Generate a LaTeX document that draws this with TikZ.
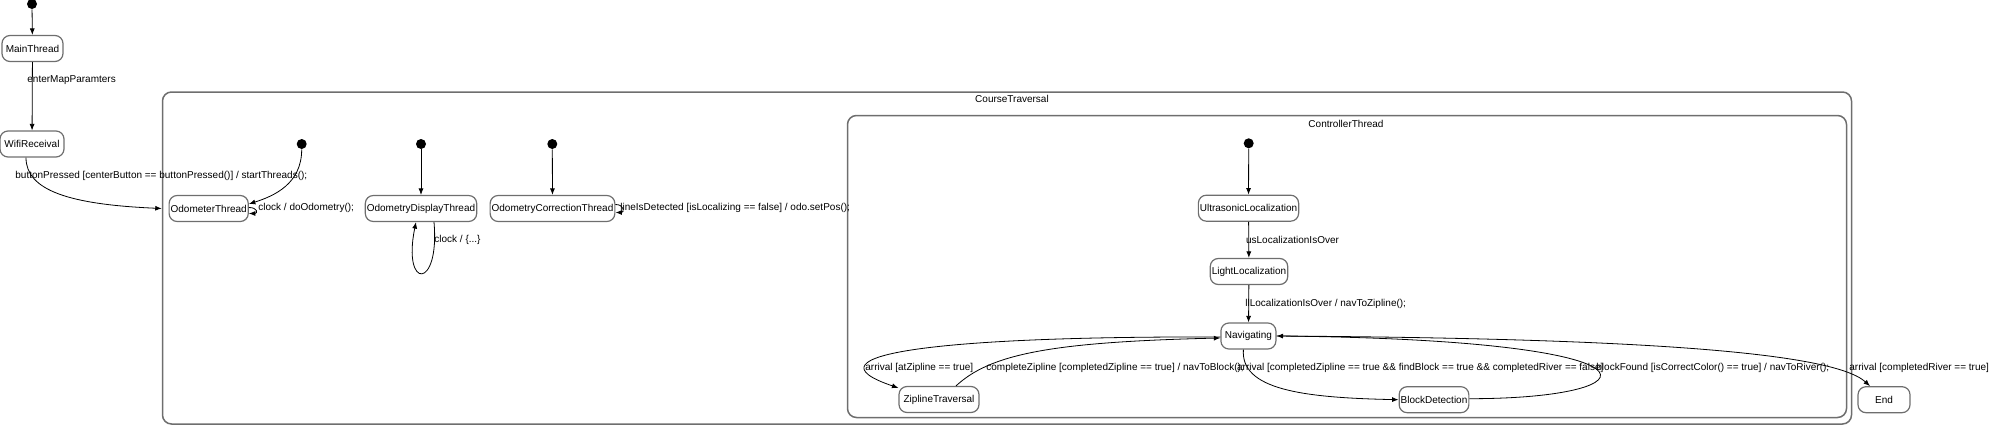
\documentclass[tikz,border=0pt]{standalone}
\usepackage{fontspec}
\setmainfont{Liberation Sans}
\usetikzlibrary{arrows.meta}

\definecolor{boxgray}{RGB}{110,110,110}
\tikzset{
	statebox/.style={draw=boxgray, line width=1.2pt, rounded corners=8pt, minimum height=26pt, minimum width=52pt, inner xsep=1.5pt},
	initdot/.style={circle, fill=black, inner sep=0pt, minimum size=10pt},
	region/.style={draw=boxgray, line width=1.5pt, rounded corners=9pt, inner sep=0pt},
	tlabel/.style={anchor=west, inner sep=0pt},
}

\begin{document}
\begin{tikzpicture}[x=1pt, y=-1pt, line width=0.8pt, >={Latex[length=6.5pt,width=5pt]},
		every node/.style={font=\fontsize{10}{12}\selectfont}]
				\useasboundingbox (0,0) rectangle (2000,439);
				% composite states
				\node[region, minimum width=1689pt, minimum height=332pt] (course) at (1007,258) {};
				\node (courselbl) at (1012,99) {CourseTraversal};
				\node[region, minimum width=999pt, minimum height=302pt] (controller) at (1347,266.5) {};
				\node (controllerlbl) at (1346,124) {ControllerThread};
				% states
				\node[initdot] (init) at (32,4) {};
				\node[statebox, minimum width=61pt] (main) at (32.5,48.5) {MainThread};
				\node[statebox, minimum width=64pt] (wifi) at (32,144) {WifiReceival};
				\node[initdot] (odoinit) at (301.7,144) {};
				\node[statebox] (odometer) at (208.7,208.5) {OdometerThread};
				\node[initdot] (dispinit) at (421,144) {};
				\node[statebox] (display) at (421,208.5) {OdometryDisplayThread};
				\node[initdot] (corrinit) at (552.3,144) {};
				\node[statebox] (correction) at (552.5,208.5) {OdometryCorrectionThread};
				\node[initdot] (ctrlinit) at (1248.7,143.3) {};
				\node[statebox] (ultra) at (1248.5,208.2) {UltrasonicLocalization};
				\node[statebox] (light) at (1249,271.5) {LightLocalization};
				\node[statebox, minimum width=55pt] (nav) at (1248.4,336) {Navigating};
				\node[statebox, minimum width=80pt] (zipline) at (939,399.5) {ZiplineTraversal};
				\node[statebox] (block) at (1434,399.7) {BlockDetection};
				\node[statebox] (end) at (1884,399.7) {End};
				% transitions
				\draw[->] (init) -- (main);
				\draw[->] (main) -- (wifi);
				\node[tlabel] (maplbl) at (27,80) {enterMapParamters};
				\draw[->] ([xshift=-6pt]wifi.south) .. controls +(0,33) and +(-92,-4) .. (course.west |- odometer.west);
				\node[tlabel] (startlbl) at (15,176) {buttonPressed [centerButton == buttonPressed()] / startThreads();};
				\draw[->] (odoinit) .. controls +(0,40) and +(25,-8) .. ([yshift=4.5pt]odometer.east);
				\draw[->] ([yshift=1pt]odometer.east) .. controls +(9,0) and +(9,0) .. ([yshift=-5pt]odometer.east);
				\node[tlabel] (odolbl) at (258,208) {clock / doOdometry();};
				\draw[->] (dispinit) -- (display);
				\draw[->] ([xshift=13pt]display.south) .. controls +(6,68) and +(-14,68) .. ([xshift=-5pt]display.south);
				\node[tlabel] (displbl) at (434,240) {clock / \{...\}};
				\draw[->] (corrinit) -- (correction);
				\draw[->] ([yshift=4pt]correction.east) .. controls +(9,0) and +(9,0) .. ([yshift=-4pt]correction.east);
				\node[tlabel] (corrlbl) at (620,208) {lineIsDetected [isLocalizing == false] / odo.setPos();};
				\draw[->] (ctrlinit) -- (ultra);
				\draw[->] (ultra) -- (light);
				\node[tlabel] (uslbl) at (1245.7,240) {usLocalizationIsOver};
				\draw[->] (light) -- (nav);
				\node[tlabel] (lllbl) at (1245,304) {llLocalizationIsOver / navToZipline();};
				\draw[->] ([yshift=-1pt]nav.west) .. controls +(-281,-1) and +(-99,-33.5) .. ([yshift=-2pt]zipline.north west);
				\node[tlabel] (ziplbl) at (865,368) {arrival [atZipline == true]};
				\draw[->] ([xshift=17pt]zipline.north) .. controls +(34,-31.5) and +(-171,4) .. ([yshift=-2pt]nav.west);
				\node[tlabel] (donelbl) at (986,368) {completeZipline [completedZipline == true] / navToBlock();};
				\draw[->] ([xshift=-5pt]nav.south) .. controls +(-3,40) and +(-96,-2) .. (block.west);
				\node[tlabel] (blocklbl) at (1236.7,368) {arrival [completedZipline == true \&\& findBlock == true \&\& completedRiver == false]};
				\draw[->] ([yshift=1pt]block.east) .. controls +(189,0) and +(404,4) .. (nav.east);
				\node[tlabel] (foundlbl) at (1596,368) {blockFound [isCorrectColor() == true] / navToRiver();};
				\draw[->] (nav.east) .. controls +(324,2) and +(-40,-36.7) .. ([xshift=-14pt]end.north);
				\node[tlabel] (endlbl) at (1849,368) {arrival [completedRiver == true]};
			\end{tikzpicture}
\end{document}
